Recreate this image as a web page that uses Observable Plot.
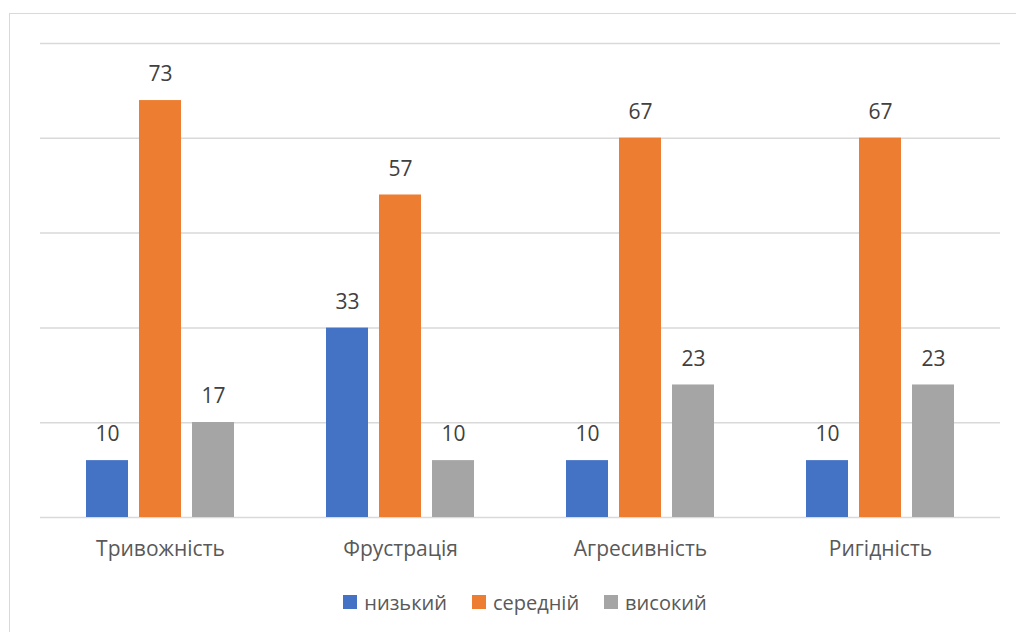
<!DOCTYPE html>
<html>
<head>
<meta charset="utf-8">
<script src="https://cdn.jsdelivr.net/npm/d3@7"></script>
<script src="https://cdn.jsdelivr.net/npm/@observablehq/plot@0.6"></script>
<style>
  html, body { margin: 0; padding: 0; background: #fff; overflow: hidden; }
  #wrap { position: relative; width: 1016px; height: 632px; }
  #frame { position: absolute; left: 9px; top: 13px; width: 1100px; height: 700px; border: 1.5px solid #d9d9d9; box-sizing: border-box; pointer-events: none; }
  #chart { position: absolute; left: 0; top: 0; }
  #legend { position: absolute; left: 17px; top: 587px; width: 1016px; height: 30px; display: flex; justify-content: center; align-items: center; font-family: "Open Sans", sans-serif; font-size: 20px; color: #595959; }
  .item { display: flex; align-items: center; margin: 0 12.5px; }
  .sw { width: 14px; height: 14px; margin-right: 7px; }
</style>
</head>
<body>
<div id="wrap">
  <div id="frame"></div>
  <div id="chart"></div>
  <div id="legend"></div>
</div>
<script>
const categories = ["Тривожність", "Фрустрація", "Агресивність", "Ригідність"];
const seriesNames = ["низький", "середній", "високий"];
const lowValues = [10, 33.3, 10, 10];
const midValues = [73.3, 56.7, 66.7, 66.7];
const highValues = [16.7, 10, 23.3, 23.3];
const gridTicks = [0, 16.667, 33.333, 50, 66.667, 83.333];
const colors = ["#4472C4", "#ED7D31", "#A5A5A5"];

const seriesValues = [lowValues, midValues, highValues];
const data = [];
categories.forEach((c, i) => {
  seriesNames.forEach((s, j) => {
    data.push({category: c, series: s, value: seriesValues[j][i]});
  });
});

const chart = Plot.plot({
  width: 1016,
  height: 580,
  marginTop: 43,
  marginBottom: 63,
  marginLeft: 40,
  marginRight: 16,
  style: {fontFamily: "'Open Sans', sans-serif", background: "transparent"},
  fx: {domain: categories, padding: 0, label: null},
  x: {domain: seriesNames, paddingInner: 0.215, paddingOuter: 0.85, axis: null},
  y: {domain: [0, gridTicks[gridTicks.length - 1]], axis: null},
  color: {domain: seriesNames, range: colors},
  marks: [
    Plot.ruleY(gridTicks, {stroke: "#d9d9d9", strokeWidth: 1.5}),
    Plot.barY(data, {fx: "category", x: "series", y: "value", fill: "series"}),
    Plot.text(data, {fx: "category", x: "series", y: "value", text: d => String(Math.round(d.value)), dy: -26, fontSize: 21, fill: "#404040"}),
    Plot.axisFx({anchor: "bottom", tickSize: 0, tickPadding: 24, fontSize: 21, color: "#595959", label: null})
  ]
});
document.getElementById("chart").appendChild(chart);

const legend = document.getElementById("legend");
seriesNames.forEach((s, j) => {
  const item = document.createElement("div");
  item.className = "item";
  const sw = document.createElement("div");
  sw.className = "sw";
  sw.style.background = colors[j];
  const t = document.createElement("span");
  t.textContent = s;
  item.appendChild(sw);
  item.appendChild(t);
  legend.appendChild(item);
});
</script>
</body>
</html>
